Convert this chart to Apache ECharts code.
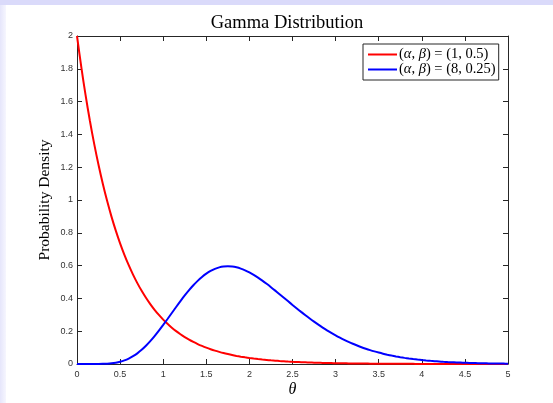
<!DOCTYPE html>
<html>
<head>
<meta charset="utf-8">
<script src="https://cdn.jsdelivr.net/npm/echarts@6/dist/echarts.min.js"></script>
<style>
  html, body { margin: 0; padding: 0; background: #ffffff; }
  #wrap { position: relative; width: 553px; height: 403px; overflow: hidden; }
  #topband { position: absolute; left: 0; top: 0; width: 553px; height: 5px; background: #dadafa; }
  #leftband { position: absolute; left: 0; top: 5px; width: 6px; height: 398px;
              background: linear-gradient(to right, #e6e6fb, #f6f6fe); }
  #chart { position: absolute; left: 0; top: 0; width: 553px; height: 403px; }
</style>
</head>
<body>
<div id="wrap">
  <div id="topband"></div>
  <div id="leftband"></div>
  <div id="chart"></div>
</div>
<script>
// Sample positions along theta (0 to 5, step 0.05)
const theta = [
  0.00, 0.05, 0.10, 0.15, 0.20, 0.25, 0.30, 0.35, 0.40, 0.45,
  0.50, 0.55, 0.60, 0.65, 0.70, 0.75, 0.80, 0.85, 0.90, 0.95,
  1.00, 1.05, 1.10, 1.15, 1.20, 1.25, 1.30, 1.35, 1.40, 1.45,
  1.50, 1.55, 1.60, 1.65, 1.70, 1.75, 1.80, 1.85, 1.90, 1.95,
  2.00, 2.05, 2.10, 2.15, 2.20, 2.25, 2.30, 2.35, 2.40, 2.45,
  2.50, 2.55, 2.60, 2.65, 2.70, 2.75, 2.80, 2.85, 2.90, 2.95,
  3.00, 3.05, 3.10, 3.15, 3.20, 3.25, 3.30, 3.35, 3.40, 3.45,
  3.50, 3.55, 3.60, 3.65, 3.70, 3.75, 3.80, 3.85, 3.90, 3.95,
  4.00, 4.05, 4.10, 4.15, 4.20, 4.25, 4.30, 4.35, 4.40, 4.45,
  4.50, 4.55, 4.60, 4.65, 4.70, 4.75, 4.80, 4.85, 4.90, 4.95,
  5.00
];

// Density for (alpha, beta) = (1, 0.5)
const densityA = [
  2.0000, 1.8097, 1.6375, 1.4816, 1.3406, 1.2131, 1.0976, 0.9932, 0.8987, 0.8131,
  0.7358, 0.6657, 0.6024, 0.5451, 0.4932, 0.4463, 0.4038, 0.3653, 0.3306, 0.2991,
  0.2707, 0.2449, 0.2216, 0.2005, 0.1814, 0.1642, 0.1485, 0.1344, 0.1216, 0.1101,
  0.0996, 0.0901, 0.0815, 0.0738, 0.0667, 0.0604, 0.0546, 0.0494, 0.0447, 0.0405,
  0.0366, 0.0331, 0.0300, 0.0271, 0.0246, 0.0222, 0.0201, 0.0182, 0.0165, 0.0149,
  0.0135, 0.0122, 0.0110, 0.0100, 0.0090, 0.0082, 0.0074, 0.0067, 0.0061, 0.0055,
  0.0050, 0.0045, 0.0041, 0.0037, 0.0033, 0.0030, 0.0027, 0.0025, 0.0022, 0.0020,
  0.0018, 0.0017, 0.0015, 0.0014, 0.0012, 0.0011, 0.0010, 0.0009, 0.0008, 0.0007,
  0.0007, 0.0006, 0.0005, 0.0005, 0.0004, 0.0004, 0.0004, 0.0003, 0.0003, 0.0003,
  0.0002, 0.0002, 0.0002, 0.0002, 0.0002, 0.0001, 0.0001, 0.0001, 0.0001, 0.0001,
  0.0001
];

// Density for (alpha, beta) = (8, 0.25)
const densityB = [
  0.0000, 0.0000, 0.0000, 0.0000, 0.0001, 0.0003, 0.0009, 0.0021, 0.0043, 0.0080,
  0.0137, 0.0219, 0.0330, 0.0474, 0.0651, 0.0864, 0.1111, 0.1391, 0.1699, 0.2031,
  0.2382, 0.2744, 0.3111, 0.3477, 0.3834, 0.4178, 0.4501, 0.4800, 0.5069, 0.5306,
  0.5507, 0.5672, 0.5800, 0.5890, 0.5943, 0.5960, 0.5944, 0.5895, 0.5817, 0.5712,
  0.5583, 0.5434, 0.5266, 0.5084, 0.4889, 0.4685, 0.4473, 0.4257, 0.4039, 0.3821,
  0.3603, 0.3389, 0.3178, 0.2973, 0.2775, 0.2583, 0.2399, 0.2223, 0.2056, 0.1897,
  0.1747, 0.1606, 0.1473, 0.1349, 0.1233, 0.1126, 0.1025, 0.0933, 0.0847, 0.0768,
  0.0696, 0.0629, 0.0568, 0.0512, 0.0461, 0.0415, 0.0373, 0.0334, 0.0300, 0.0268,
  0.0240, 0.0214, 0.0191, 0.0170, 0.0152, 0.0135, 0.0120, 0.0106, 0.0094, 0.0084,
  0.0074, 0.0066, 0.0058, 0.0051, 0.0045, 0.0040, 0.0035, 0.0031, 0.0027, 0.0024,
  0.0021
];

const seriesNames = ['A', 'B'];
const seriesColors = ['#ff0000', '#0000ff'];

const xTicks = { min: 0, max: 5, interval: 0.5 };
const yTicks = { min: 0, max: 2, interval: 0.2 };

const axisColor = '#262626';
const tickFont = { fontFamily: 'Liberation Sans, Arial, sans-serif', fontSize: 9, color: '#333333' };
const serif = 'Liberation Serif, "DejaVu Serif", serif';

function pairs(xs, ys) { return xs.map((x, i) => [x, ys[i]]); }

const chart = echarts.init(document.getElementById('chart'), null, { renderer: 'canvas' });

const legendRich = {
  n: { fontFamily: serif, fontSize: 14.5, color: '#000' },
  g: { fontFamily: serif, fontSize: 14.5, fontStyle: 'italic', color: '#000' }
};

const edgeAxis = {
  axisLine: { show: true, onZero: false, lineStyle: { color: axisColor, width: 1 } },
  axisTick: { show: true, inside: true, length: 5, lineStyle: { color: axisColor } },
  splitLine: { show: false }
};

chart.setOption({
  animation: false,
  backgroundColor: 'transparent',
  title: {
    text: 'Gamma Distribution',
    left: 282, top: 9, textAlign: 'center',
    textStyle: { fontFamily: serif, fontSize: 18.5, fontWeight: 'normal', color: '#000' }
  },
  legend: {
    orient: 'vertical',
    left: 363, top: 44,
    backgroundColor: '#ffffff',
    borderColor: axisColor, borderWidth: 1,
    padding: [3, 3, 3, 5],
    itemGap: 0,
    itemWidth: 29, itemHeight: 2,
    icon: 'rect',
    data: seriesNames,
    formatter: function (name) {
      return name === 'A'
        ? '{n|(}{g|α}{n|, }{g|β}{n|) = (1, 0.5)}'
        : '{n|(}{g|α}{n|, }{g|β}{n|) = (8, 0.25)}';
    },
    textStyle: { rich: legendRich, padding: [0, 0, 0, -3] }
  },
  grid: { left: 77, top: 36, width: 431, height: 329, containLabel: false },
  xAxis: [
    Object.assign({
      type: 'value', min: xTicks.min, max: xTicks.max, interval: xTicks.interval,
      position: 'bottom',
      name: 'θ', nameLocation: 'middle', nameGap: 18, nameMoveOverlap: false,
      nameTextStyle: { fontFamily: serif, fontSize: 16, fontStyle: 'italic', color: '#000' },
      axisLabel: Object.assign({ margin: 6 }, tickFont)
    }, edgeAxis),
    Object.assign({
      type: 'value', min: xTicks.min, max: xTicks.max, interval: xTicks.interval,
      position: 'top',
      axisLabel: { show: false }
    }, edgeAxis)
  ],
  yAxis: [
    Object.assign({
      type: 'value', min: yTicks.min, max: yTicks.max, interval: yTicks.interval,
      position: 'left',
      name: 'Probability Density', nameLocation: 'middle', nameGap: 24, nameMoveOverlap: false,
      nameTextStyle: { fontFamily: serif, fontSize: 15.5, color: '#000' },
      axisLabel: Object.assign({ margin: 4 }, tickFont)
    }, edgeAxis),
    Object.assign({
      type: 'value', min: yTicks.min, max: yTicks.max, interval: yTicks.interval,
      position: 'right',
      axisLabel: { show: false }
    }, edgeAxis)
  ],
  series: [
    {
      name: seriesNames[0], type: 'line', xAxisIndex: 0, yAxisIndex: 0,
      data: pairs(theta, densityA),
      smooth: 0.3,
      showSymbol: false, symbol: 'none',
      lineStyle: { color: seriesColors[0], width: 2 },
      itemStyle: { color: seriesColors[0] },
      z: 3
    },
    {
      name: seriesNames[1], type: 'line', xAxisIndex: 0, yAxisIndex: 0,
      data: pairs(theta, densityB),
      smooth: 0.3,
      showSymbol: false, symbol: 'none',
      lineStyle: { color: seriesColors[1], width: 2 },
      itemStyle: { color: seriesColors[1] },
      z: 4
    }
  ]
});
</script>
</body>
</html>
